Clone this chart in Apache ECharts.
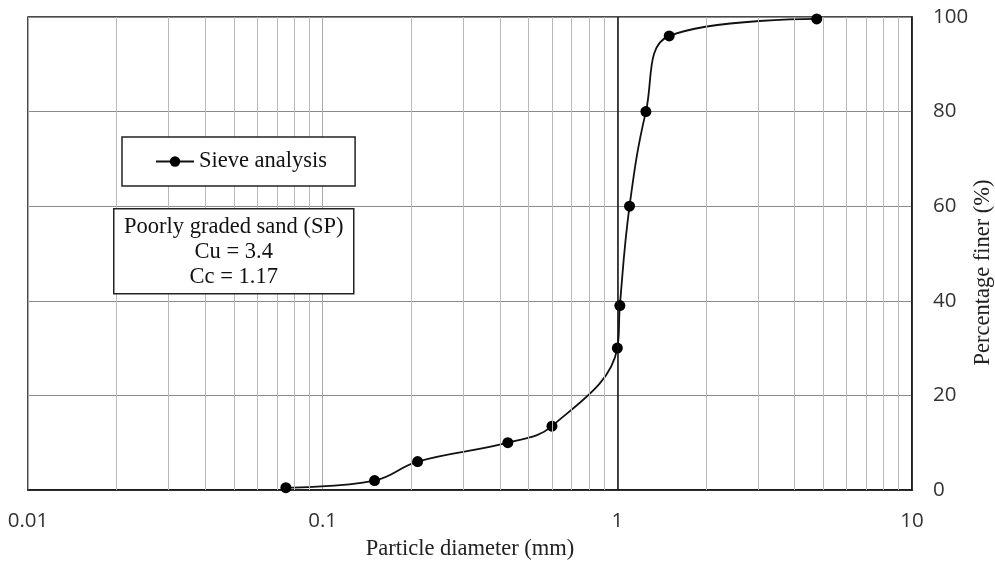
<!DOCTYPE html>
<html>
<head>
<meta charset="utf-8">
<script src="https://cdn.jsdelivr.net/npm/echarts@6/dist/echarts.min.js"></script>
<style>
  html, body {margin:0; padding:0; background:#fff;}
  #chart {width:995px; height:563px;}
</style>
</head>
<body>
<div id="chart"></div>
<script>
// Sieve analysis: particle diameter (mm) vs percentage finer (%)
let diameters = [0.075, 0.15, 0.21, 0.425, 0.6, 1.0, 1.02, 1.1, 1.25, 1.5, 4.75];
let percentFiner = [0.5, 2, 6, 10, 13.5, 30, 39, 60, 80, 96, 99.6];
let minorTicks = [0.02, 0.03, 0.04, 0.05, 0.06, 0.07, 0.08, 0.09,
                  0.2, 0.3, 0.4, 0.5, 0.6, 0.7, 0.8, 0.9,
                  2, 3, 4, 5, 6, 7, 8, 9];
let boxLines = ["Poorly graded sand (SP)", "Cu = 3.4", "Cc = 1.17"];

let serif = "'Liberation Serif', 'DejaVu Serif', serif";
let sans = "'Open Sans', 'Liberation Sans', sans-serif";

let chart = echarts.init(document.getElementById('chart'));
let options = {
    backgroundColor: '#fff',
    animation: false,
    grid: {
        left: 28, right: 83, top: 17, bottom: 73,
        containLabel: false, outerBoundsMode: 'none',
        show: true, borderColor: '#111', borderWidth: 1.5
    },
    legend: {
        data: ['Sieve analysis'],
        left: 122, top: 137,
        padding: [13, 28, 13, 33],
        backgroundColor: '#fff',
        borderColor: '#222', borderWidth: 1.5,
        itemWidth: 38, itemHeight: 13,
        itemGap: 6,
        z: 10,
        textStyle: {fontFamily: serif, fontSize: 22.5, color: '#111'}
    },
    xAxis: {
        type: 'log', logBase: 10, min: 0.01, max: 10,
        name: 'Particle diameter (mm)',
        nameLocation: 'middle', nameGap: 48,
        nameTextStyle: {fontFamily: serif, fontSize: 22.5, color: '#222'},
        axisLine: {show: true, lineStyle: {color: '#111', width: 1.5}},
        axisTick: {show: false},
        axisLabel: {fontFamily: sans, fontSize: 20.5, color: '#333', margin: 21,
            formatter: v => String(v)},
        splitLine: {show: true, lineStyle: {color: '#a8a8a8', width: 1}}
    },
    yAxis: {
        type: 'value', position: 'right', min: 0, max: 100, interval: 20,
        name: 'Percentage finer (%)',
        nameLocation: 'middle', nameGap: 60, nameRotate: 90,
        nameMoveOverlap: false,
        nameTextStyle: {fontFamily: serif, fontSize: 22.5, color: '#222',
            padding: [0, 38, 0, 0]},
        axisLine: {show: true, lineStyle: {color: '#111', width: 1.5}},
        axisTick: {show: false},
        axisLabel: {fontFamily: sans, fontSize: 20.5, color: '#333', margin: 21},
        splitLine: {show: true, lineStyle: {color: '#8a8a8a', width: 1.2}}
    },
    graphic: [{
        type: 'group', left: 113, top: 208, z: 100,
        children: [
            {type: 'rect', z: 100, shape: {x: 0, y: 0, width: 240, height: 85},
             style: {fill: '#fff', stroke: '#222', lineWidth: 1.5}},
            {type: 'text', z: 101, x: 120, y: 6,
             style: {text: boxLines.join('\n'), align: 'center', lineHeight: 25,
                     font: '22.5px ' + serif, fill: '#111'}}
        ]
    }],
    series: [
        {
            name: 'grid-minor', type: 'line', data: [], silent: true, z: 1,
            markLine: {
                silent: true, symbol: 'none', animation: false,
                label: {show: false},
                lineStyle: {color: '#b8b8b8', width: 1, type: 'solid'},
                data: minorTicks.map(v => ({xAxis: v}))
                    .concat([{xAxis: 1, lineStyle: {color: '#111', width: 1.5}}])
            }
        },
        {
            name: 'Sieve analysis', type: 'line', z: 3,
            data: diameters.map((d, i) => [d, percentFiner[i]]),
            smooth: 0.4,
            symbol: 'circle', symbolSize: 11,
            itemStyle: {color: '#000'},
            lineStyle: {color: '#111', width: 1.8}
        }
    ]
};
chart.setOption(options);
</script>
</body>
</html>
